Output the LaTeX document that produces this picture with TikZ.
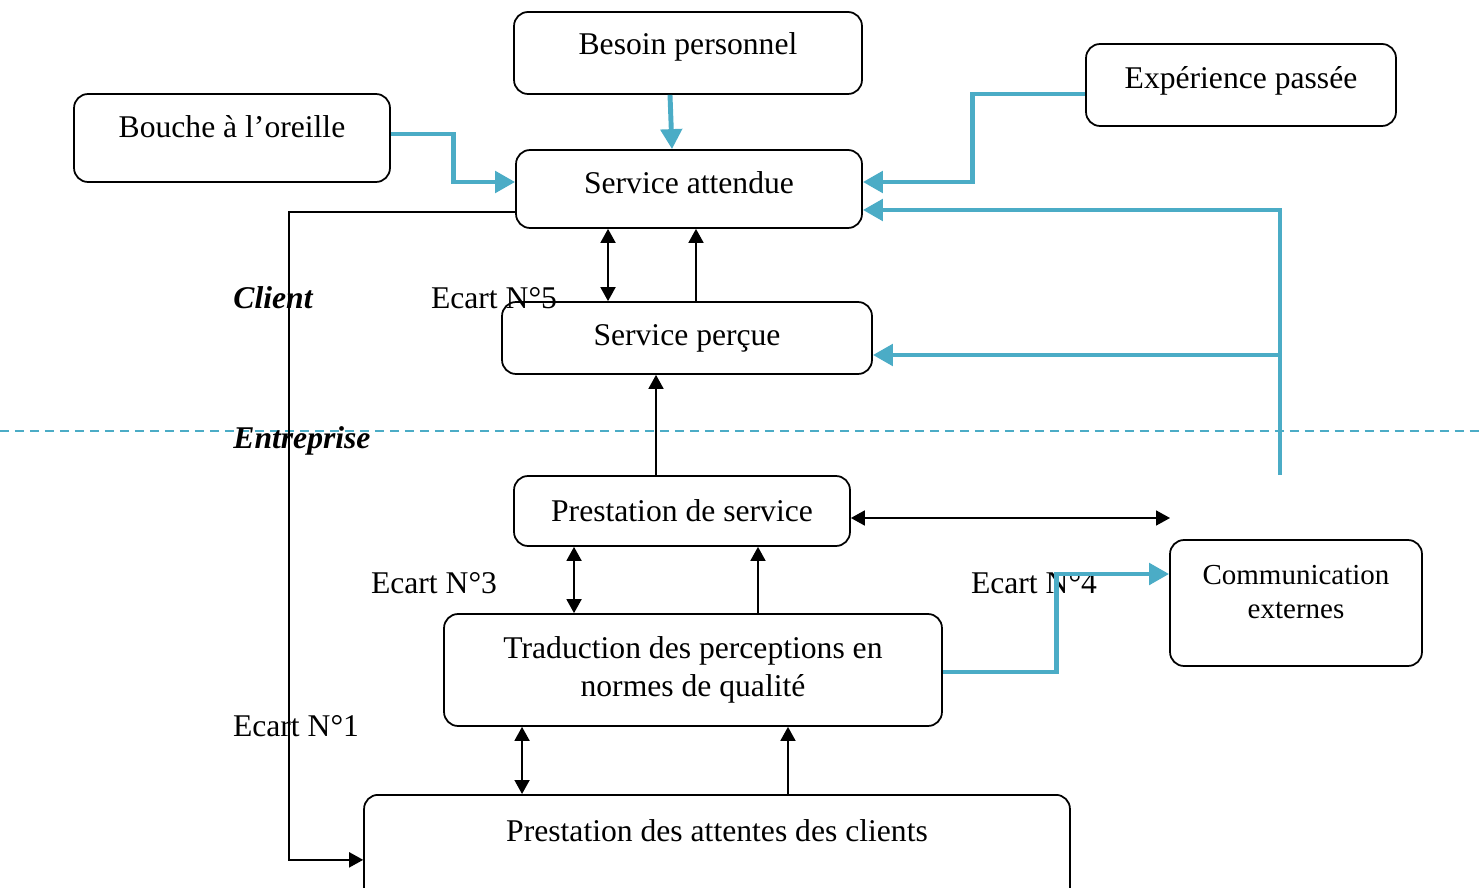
\documentclass[tikz,border=0pt]{standalone}
\usepackage{fontspec}
\setmainfont{Liberation Serif}
\usetikzlibrary{arrows.meta}
\definecolor{bleu}{RGB}{75,172,198}
\tikzset{
  box/.style={draw, line width=1pt, rounded corners=0.28cm, align=center, inner sep=0pt},
  flow/.style={bleu, line width=2.8pt, -{Triangle[length=0.4cm,width=0.42cm]}},
  link/.style={line width=1pt, -{Triangle[length=0.28cm,width=0.3cm]}},
  linkboth/.style={line width=1pt, {Triangle[length=0.28cm,width=0.3cm]}-{Triangle[length=0.28cm,width=0.3cm]}},
  side/.style={font=\fontsize{18}{21.6}\selectfont\bfseries\itshape}
}
\begin{document}
\begin{tikzpicture}[x=0.02cm, y=-0.02cm, font=\fontsize{18}{21.6}\selectfont]
  \clip (0,0) rectangle (1484,888);

  % boxes
  \node[box, minimum width=6.96cm, minimum height=1.64cm] (besoin) at (688,53) {Besoin personnel\\[-0.4cm]};
  \node[box, minimum width=6.32cm, minimum height=1.76cm] (bouche) at (232,138) {Bouche à l’oreille\\[-0.3cm]};
  \node[box, minimum width=6.2cm, minimum height=1.64cm] (experience) at (1241,85) {Expérience passée\\[-0.44cm]};
  \node[box, minimum width=6.92cm, minimum height=1.56cm] (attendu) at (689,189) {Service attendue\\[-0.5cm]};
  \node[box, minimum width=7.4cm, minimum height=1.44cm] (percu) at (687,338) {Service perçue};
  \node[box, minimum width=6.72cm, minimum height=1.4cm] (prestation) at (682,511) {Prestation de service};
  \node[box, minimum width=9.96cm, minimum height=2.24cm] (traduction) at (693,670) {Traduction des perceptions en\\normes de qualité};
  \node[box, minimum width=5.04cm, minimum height=2.52cm, font=\fontsize{16.5}{19.4}\selectfont] (communication) at (1296,603) {Communication\\externes\\[-0.24cm]};
  \node[box, minimum width=14.12cm, text height=0.94cm, text depth=1.66cm, anchor=north] (attentes) at (717,794) {Prestation des attentes des clients};

  % client / entreprise
  \draw[bleu, line width=1pt, dash pattern=on 0.18cm off 0.12cm] (0,431) -- (1484,431);
  \node[side] (client) at (273,298) {Client};
  \node[side] (entreprise) at (302,441) {Entreprise};

  % gap labels
  \node (ecart5) at (494,298) {Ecart N°5};
  \node (ecart3) at (434,583) {Ecart N°3};
  \node (ecart4) at (1034,583) {Ecart N°4};
  \node (ecart1) at (296,726) {Ecart N°1};

  % blue arrows
  \draw[flow] ([xshift=-0.36cm]besoin.south) -- ([xshift=-0.34cm]attendu.north);
  \draw[flow] ([yshift=0.08cm]bouche.east) -- ++(63,0) |- ([yshift=0.14cm]attendu.west);
  \draw[flow] ([yshift=-0.18cm]experience.west) -- ++(-113,0) |- ([yshift=0.14cm]attendu.east);
  \coordinate (retour) at (1280,475);
  \coordinate (branche) at (1280,355);
  \draw[flow] (retour) |- ([yshift=-0.42cm]attendu.east);
  \draw[flow] (branche) -- (percu.east |- branche);
  \draw[flow] ([yshift=-0.04cm]traduction.east) -- ++(114,0) |- ([yshift=0.58cm]communication.west);

  % black arrows
  \draw[link] ([yshift=-0.46cm]attendu.west) -- ++(-226,0) |- (attentes.west);
  \draw[linkboth] ([xshift=-1.62cm]attendu.south) -- ([xshift=-1.58cm]percu.north);
  \draw[link] ([xshift=0.18cm]percu.north) -- ([xshift=0.14cm]attendu.south);
  \draw[link] ([xshift=-0.52cm]prestation.north) -- ([xshift=-0.62cm]percu.south);
  \coordinate (bout) at (1170,518);
  \draw[linkboth] ([yshift=-0.14cm]prestation.east) -- (bout);
  \draw[linkboth] ([xshift=-2.16cm]prestation.south) -- ([xshift=-2.38cm]traduction.north);
  \draw[link] ([xshift=1.3cm]traduction.north) -- ([xshift=1.52cm]prestation.south);
  \draw[linkboth] ([xshift=-3.42cm]traduction.south) -- ([xshift=-3.9cm]attentes.north);
  \draw[link] ([xshift=1.42cm]attentes.north) -- ([xshift=1.9cm]traduction.south);
\end{tikzpicture}
\end{document}
